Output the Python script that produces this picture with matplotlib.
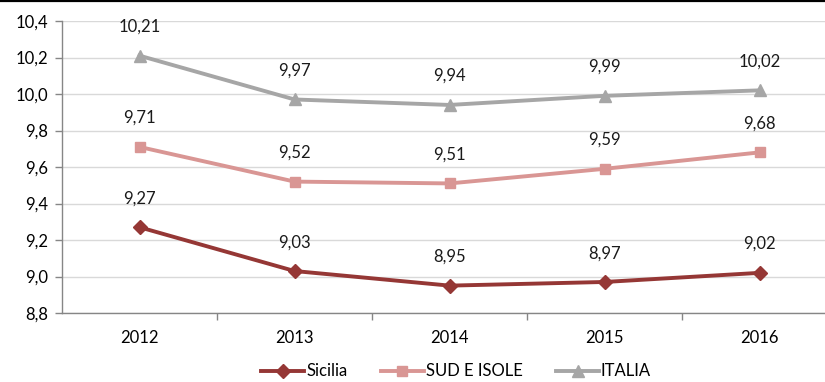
import matplotlib
matplotlib.use("Agg")
import matplotlib.pyplot as plt
from matplotlib.lines import Line2D
from matplotlib.ticker import FixedLocator, NullFormatter

years = ["2012", "2013", "2014", "2015", "2016"]
sicilia = [9.27, 9.03, 8.95, 8.97, 9.02]
sud_isole = [9.71, 9.52, 9.51, 9.59, 9.68]
italia = [10.21, 9.97, 9.94, 9.99, 10.02]
y_ticks = [8.8, 9.0, 9.2, 9.4, 9.6, 9.8, 10.0, 10.2, 10.4]

plt.rcParams["font.family"] = ["Lato", "DejaVu Sans"]
FS = 12

fig = plt.figure(figsize=(8.25, 3.82), dpi=100)
ax = fig.add_axes([62 / 825, 1 - 313 / 382, 775 / 825, 292 / 382])

x = list(range(len(years)))
series = [
    ("Sicilia", sicilia, "#953735", "D", 7.5),
    ("SUD E ISOLE", sud_isole, "#D99694", "s", 7),
    ("ITALIA", italia, "#A6A6A6", "^", 8),
]
for name, vals, col, mk, ms in series:
    ax.plot(x, vals, color=col, lw=2.8, marker=mk, markersize=ms,
            markerfacecolor=col, markeredgecolor=col, label=name, zorder=3)
    for xi, v in zip(x, vals):
        ax.annotate(f"{v:.2f}".replace(".", ","), (xi, v), xytext=(0, 15),
                    textcoords="offset points", ha="center", va="bottom",
                    fontsize=FS, color="#1a1a1a")

ax.set_xlim(-0.5, len(years) - 0.5)
ax.set_ylim(8.8, 10.4)
ax.set_yticks(y_ticks)
ax.set_yticklabels([f"{t:.1f}".replace(".", ",") for t in y_ticks], fontsize=FS)
ax.yaxis.grid(True, color="#D9D9D9", lw=1)
ax.set_axisbelow(True)

ax.set_xticks(x)
ax.set_xticklabels(years, fontsize=FS)
ax.tick_params(axis="x", which="major", length=0, pad=12)
ax.xaxis.set_minor_locator(FixedLocator([i + 0.5 for i in range(len(years) - 1)]))
ax.xaxis.set_minor_formatter(NullFormatter())
ax.tick_params(axis="x", which="minor", length=5, color="#868686", width=1)
ax.tick_params(axis="y", length=5, color="#868686", width=1, pad=5)

for s in ["top", "right"]:
    ax.spines[s].set_visible(False)
for s in ["left", "bottom"]:
    ax.spines[s].set_color("#868686")
    ax.spines[s].set_linewidth(1)

ax.legend(loc="center", bbox_to_anchor=((456 - 62) / 775, -0.2),
          ncol=3, frameon=False, fontsize=FS, handlelength=2.6,
          columnspacing=2.0, handletextpad=0.1, borderpad=0.2)

fig.add_artist(Line2D([0, 1], [1 - 1 / 382, 1 - 1 / 382], color="black", lw=1.6,
                      transform=fig.transFigure))

fig.savefig("out.png", dpi=100)
